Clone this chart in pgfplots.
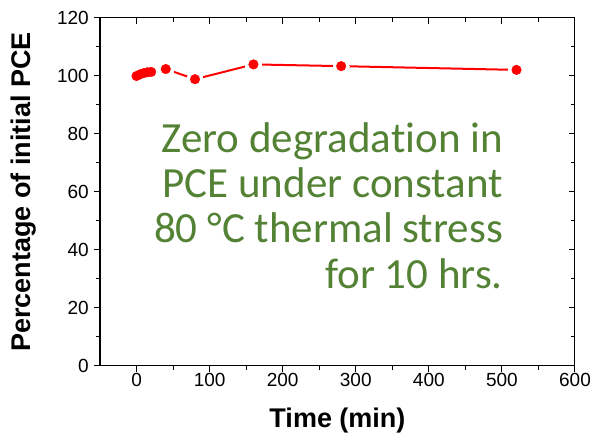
\documentclass[border=0pt]{standalone}
\usepackage{fontspec}
\setmainfont{Liberation Sans}
\newfontfamily\calibri[Ligatures=NoCommon]{Carlito}
\usepackage{pgfplots}
\pgfplotsset{compat=1.18}
\definecolor{txtgreen}{RGB}{84,130,53}

\pgfplotstableread{
x y
0 100
5 100.6
10 101.0
15 101.3
20 101.4
40 102.4
80 98.9
160 104.0
280 103.4
520 102.1
}\pcedata

\begin{document}
\begin{tikzpicture}
\useasboundingbox (-100pt,-70pt) rectangle (495pt,366pt);
\begin{axis}[
  name=ax, at={(0,0)}, anchor=south west,
  scale only axis, width=475pt, height=348pt,
  xmin=-50, xmax=600, ymin=0, ymax=120,
  xtick={0,100,...,600}, ytick={0,20,...,120},
  minor x tick num=1, minor y tick num=1,
  xtick pos=left, ytick pos=left,
  tick align=outside,
  major tick length=6pt, minor tick length=4pt,
  axis line style={line width=1pt, black},
  every tick/.style={black, line width=1pt},
  /pgf/number format/assume math mode=true,
  tick label style={font=\fontsize{19}{21}\selectfont, inner sep=0pt},
  xticklabel style={anchor=north, yshift=-1pt},
  yticklabel style={anchor=east, xshift=-5pt},
  xlabel={\bfseries Time (min)},
  ylabel={\bfseries Percentage of initial PCE},
  label style={font=\fontsize{27}{30}\selectfont},
  xlabel style={at={(axis description cs:0.5,0)}, anchor=base, yshift=-62pt},
  ylabel style={at={(axis description cs:-0.16,0.5)}, anchor=center},
  clip=false,
]
\addplot[red, line width=2pt] table {\pcedata};
\addplot[white, only marks, mark=*, mark size=8pt, mark options={draw=white, fill=white, line width=0pt}] table {\pcedata};
\addplot[red, only marks, mark=*, mark size=4.8pt, mark options={draw=red, fill=red}] table {\pcedata};
\end{axis}
\begin{axis}[
  at={(0,0)}, anchor=south west,
  scale only axis, width=475pt, height=348pt,
  xmin=-50, xmax=600, ymin=0, ymax=120,
  xtick={0,100,...,600}, ytick={0,20,...,120},
  minor x tick num=1, minor y tick num=1,
  xtick pos=right, ytick pos=right,
  tick align=inside,
  major tick length=6pt, minor tick length=4pt,
  axis line style={line width=1pt, black},
  every tick/.style={black, line width=1pt},
  xticklabels={}, yticklabels={},
]
\end{axis}
\begin{scope}[every node/.style={anchor=base east, inner sep=0pt, text=txtgreen, font=\calibri\fontsize{43}{45}\selectfont}]
\node at ([xshift=403pt,yshift=213pt]ax.south west) {Zero degradation in};
\node at ([xshift=403pt,yshift=168pt]ax.south west) {PCE under constant};
\node at ([xshift=403pt,yshift=123pt]ax.south west) {80 °C thermal stress};
\node at ([xshift=403pt,yshift=77pt]ax.south west) {for 10 hrs.};
\end{scope}
\end{tikzpicture}
\end{document}
